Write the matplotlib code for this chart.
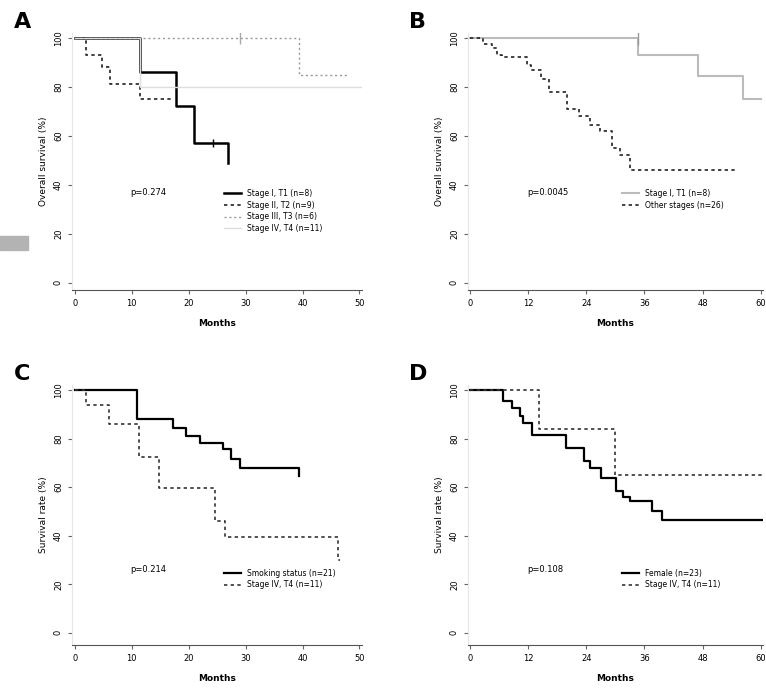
import matplotlib
matplotlib.use("Agg")
import matplotlib.pyplot as plt
from matplotlib.patches import Rectangle

# Kaplan-Meier steps (months, survival %)
a1_t = [0, 11.4, 17.8, 20.9, 26.9]
a1_s = [100, 86, 72, 57, 49]
a1_end = 26.9
a2_t = [0, 2.0, 4.8, 6.2, 11.4]
a2_s = [100, 93, 88, 81, 75]
a2_end = 17.0
a3_t = [0, 39.3]
a3_s = [100, 85]
a3_end = 48.0
a4_t = [0, 11.4]
a4_s = [100, 80]
a4_end = 51.0

b1_t = [0, 34.6, 47.0, 56.3]
b1_s = [100, 93, 84.5, 75]
b1_end = 60.0
b2_t = [0, 2.6, 4.5, 5.5, 6.5, 11.6, 12.6, 14.6, 16.3, 19.9, 22.4, 24.8, 26.8, 29.3, 30.9, 33.0]
b2_s = [100, 97.6, 96, 93, 92, 89, 87, 83, 78, 71, 68, 64.5, 62, 55, 52, 46]
b2_end = 55.0

c1_t = [0, 11.0, 17.2, 19.5, 22.0, 26.0, 27.5, 29.0, 39.3]
c1_s = [100, 88, 84.5, 81, 78, 75.5, 71.4, 68, 64.5]
c1_end = 39.3
c2_t = [0, 1.9, 6.0, 11.2, 14.7, 24.7, 26.4, 46.2]
c2_s = [100, 94, 86, 72.6, 59.6, 46, 39.6, 30]
c2_end = 46.5

d1_t = [0, 6.7, 8.5, 10.2, 10.8, 12.8, 19.7, 23.4, 24.8, 27.0, 30.1, 31.5, 32.9, 37.6, 39.6]
d1_s = [100, 95.5, 92.6, 89.3, 86.4, 81.5, 76, 70.8, 68, 63.8, 58.4, 56, 54.3, 50, 46.5]
d1_end = 60.5
d2_t = [0, 14.2, 30.0]
d2_s = [100, 84, 65]
d2_end = 60.5

pvals = ["p=0.274", "p=0.0045", "p=0.214", "p=0.108"]
labels_a = ["Stage I, T1 (n=8)", "Stage II, T2 (n=9)", "Stage III, T3 (n=6)", "Stage IV, T4 (n=11)"]
labels_b = ["Stage I, T1 (n=8)", "Other stages (n=26)"]
labels_c = ["Smoking status (n=21)", "Stage IV, T4 (n=11)"]
labels_d = ["Female (n=23)", "Stage IV, T4 (n=11)"]

yticks = [0, 20, 40, 60, 80, 100]


def km(ax, t, s, end, **kw):
    xs = list(t) + [end]
    ys = list(s) + [s[-1]]
    return ax.step(xs, ys, where="post", **kw)[0]


def style(ax, xmax, xstep, ylo, letter, pval, py, ylabel="Overall survival (%)"):
    ax.set_xlim(-0.5, xmax + 0.5)
    ax.set_ylim(ylo, 102)
    ax.set_xticks(range(0, xmax + 1, xstep))
    ax.set_yticks(yticks)
    ax.tick_params(axis="y", labelrotation=90, labelsize=6, length=3, color="#666666")
    ax.tick_params(axis="x", labelsize=6, length=3, color="#666666")
    for lab in ax.get_yticklabels():
        lab.set_va("center")
    ax.spines["top"].set_visible(False)
    ax.spines["right"].set_visible(False)
    ax.spines["left"].set_color("#e6e6e6")
    ax.spines["bottom"].set_color("#555555")
    ax.set_xlabel("Months", fontsize=6.5, fontweight="bold", labelpad=8)
    ax.set_ylabel(ylabel, fontsize=6.5)
    ax.text(0.2, py, pval, transform=ax.transAxes, fontsize=6)
    ax.text(-0.2, 1.02, letter, transform=ax.transAxes, fontsize=16, fontweight="bold")


fig = plt.figure(figsize=(7.66, 6.93), dpi=100)

axA = fig.add_axes([0.094, 0.5815, 0.379, 0.371])
axB = fig.add_axes([0.611, 0.5815, 0.385, 0.371])
axC = fig.add_axes([0.094, 0.0693, 0.379, 0.375])
axD = fig.add_axes([0.611, 0.0693, 0.385, 0.375])

# A
h = [km(axA, a1_t, a1_s, a1_end, color="black", lw=1.8),
     km(axA, a2_t, a2_s, a2_end, color="#222222", lw=1.2, ls=(0, (2, 2))),
     km(axA, a3_t, a3_s, a3_end, color="#999999", lw=1.0, ls=(0, (1.5, 2))),
     km(axA, a4_t, a4_s, a4_end, color="#dddddd", lw=1.0)]
axA.plot([24.3], [57], marker="|", color="black", ms=6)
axA.plot([29.0], [100], marker="|", color="#aaaaaa", ms=8)
axA.legend(h, labels_a, loc="upper left", bbox_to_anchor=(0.5, 0.42), fontsize=5.5,
           frameon=False, handlelength=2.2, labelspacing=0.35)
style(axA, 50, 10, -3, "A", pvals[0], 0.37)

# B
h = [km(axB, b1_t, b1_s, b1_end, color="#bbbbbb", lw=1.5),
     km(axB, b2_t, b2_s, b2_end, color="#222222", lw=1.2, ls=(0, (2, 2)))]
axB.plot([34.6], [100], marker="|", color="#999999", ms=10)
axB.legend(h, labels_b, loc="upper left", bbox_to_anchor=(0.5, 0.42), fontsize=5.5,
           frameon=False, handlelength=2.2, labelspacing=0.35)
style(axB, 60, 12, -3, "B", pvals[1], 0.37)

# C
h = [km(axC, c1_t, c1_s, c1_end, color="black", lw=1.6),
     km(axC, c2_t, c2_s, c2_end, color="#333333", lw=1.2, ls=(0, (2, 2)))]
axC.legend(h, labels_c, loc="upper left", bbox_to_anchor=(0.5, 0.32), fontsize=5.5,
           frameon=False, handlelength=2.2, labelspacing=0.35)
style(axC, 50, 10, -5, "C", pvals[2], 0.28, ylabel="Survival rate (%)")

# D
h = [km(axD, d1_t, d1_s, d1_end, color="black", lw=1.6),
     km(axD, d2_t, d2_s, d2_end, color="#333333", lw=1.2, ls=(0, (2, 2)))]
axD.legend(h, labels_d, loc="upper left", bbox_to_anchor=(0.5, 0.32), fontsize=5.5,
           frameon=False, handlelength=2.2, labelspacing=0.35)
style(axD, 60, 12, -5, "D", pvals[3], 0.28, ylabel="Survival rate (%)")

# grey block on the left edge
fig.patches.append(Rectangle((0, 1 - 250 / 693), 28 / 766, 14 / 693,
                             transform=fig.transFigure, color="#b3b3b3"))

fig.savefig("out.png", dpi=100)
